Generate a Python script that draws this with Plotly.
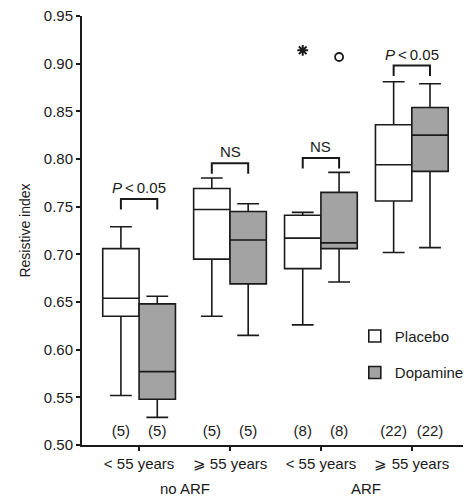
import plotly.graph_objects as go

# ---- data ----
age_labels = ["< 55 years", "\u2a7e 55 years", "< 55 years", "\u2a7e 55 years"]
arf_groups = ["no ARF", "ARF"]
arf_members = [[0, 1], [2, 3]]

placebo_lower = [0.552, 0.635, 0.626, 0.702]
placebo_q1 = [0.635, 0.695, 0.685, 0.756]
placebo_median = [0.654, 0.747, 0.717, 0.794]
placebo_q3 = [0.706, 0.769, 0.741, 0.836]
placebo_upper = [0.729, 0.780, 0.744, 0.881]

dopamine_lower = [0.529, 0.615, 0.671, 0.707]
dopamine_q1 = [0.548, 0.669, 0.706, 0.787]
dopamine_median = [0.577, 0.715, 0.712, 0.825]
dopamine_q3 = [0.648, 0.745, 0.765, 0.854]
dopamine_upper = [0.656, 0.753, 0.786, 0.879]

n_placebo = [5, 5, 8, 22]
n_dopamine = [5, 5, 8, 22]

placebo_outlier_group = [2]
placebo_outlier_value = [0.914]
dopamine_outlier_group = [2]
dopamine_outlier_value = [0.907]

bracket_top = [0.758, 0.7955, 0.801, 0.898]
bracket_text = ["<i>P</i>\u2009<\u20090.05", "NS", "NS", "<i>P</i>\u2009<\u20090.05"]

y_ticks = [0.50, 0.55, 0.60, 0.65, 0.70, 0.75, 0.80, 0.85, 0.90, 0.95]

# ---- style ----
FONT = "Liberation Sans, Arial, sans-serif"
LINE = "#1a1a1a"
GRAY = "#a3a3a3"
BOXGAP = 0.2
OFF = (1 - BOXGAP) / 4  # centre offset of each box within a group
N_Y = 0.513
LEG = 0.011

pos = list(range(len(age_labels)))

fig = go.Figure()
fig.add_trace(go.Box(
    name="Placebo", x=pos, q1=placebo_q1, median=placebo_median, q3=placebo_q3,
    lowerfence=placebo_lower, upperfence=placebo_upper,
    fillcolor="white", line=dict(color=LINE, width=1.6), whiskerwidth=0.6,
    boxpoints=False, legendgroup="p"))
fig.add_trace(go.Box(
    name="Dopamine", x=pos, q1=dopamine_q1, median=dopamine_median, q3=dopamine_q3,
    lowerfence=dopamine_lower, upperfence=dopamine_upper,
    fillcolor=GRAY, line=dict(color=LINE, width=1.6), whiskerwidth=0.6,
    boxpoints=False, legendgroup="d"))

fig.add_trace(go.Scatter(
    x=[g - OFF for g in placebo_outlier_group], y=placebo_outlier_value,
    mode="markers", marker=dict(symbol="asterisk-open", size=9, color=LINE,
                                line=dict(color=LINE, width=2)),
    showlegend=False, hoverinfo="skip"))
fig.add_trace(go.Scatter(
    x=[g + OFF for g in dopamine_outlier_group], y=dopamine_outlier_value,
    mode="markers", marker=dict(symbol="circle-open", size=8, color=LINE,
                                line=dict(color=LINE, width=1.8)),
    showlegend=False, hoverinfo="skip"))

# sample sizes
fig.add_trace(go.Scatter(
    x=[p - OFF for p in pos] + [p + OFF for p in pos],
    y=[N_Y] * (2 * len(pos)),
    text=[f"({n})" for n in n_placebo] + [f"({n})" for n in n_dopamine],
    mode="text", textfont=dict(family=FONT, size=15, color=LINE),
    showlegend=False, hoverinfo="skip"))

shapes = []
annotations = []
for p, top, txt in zip(pos, bracket_top, bracket_text):
    x0, x1 = p - OFF, p + OFF
    shapes.append(dict(type="path", xref="x", yref="y",
                       path=f"M{x0},{top - LEG} L{x0},{top} L{x1},{top} L{x1},{top - LEG}",
                       line=dict(color=LINE, width=2)))
    annotations.append(dict(x=p, y=top, xref="x", yref="y", text=txt, showarrow=False,
                            yanchor="bottom", yshift=1,
                            font=dict(family=FONT, size=15, color=LINE)))

for name, members in zip(arf_groups, arf_members):
    annotations.append(dict(x=sum(members) / len(members), y=0, xref="x", yref="paper",
                            text=name, showarrow=False, yanchor="top", yshift=-33,
                            font=dict(family=FONT, size=15, color=LINE)))

fig.update_layout(
    width=469, height=496,
    margin=dict(l=82, r=0, t=16, b=51),
    paper_bgcolor="white", plot_bgcolor="white",
    boxmode="group", boxgap=BOXGAP, boxgroupgap=0,
    font=dict(family=FONT, size=15, color=LINE),
    shapes=shapes, annotations=annotations,
    legend=dict(x=0.716, y=0.292, xanchor="left", yanchor="top",
                bgcolor="rgba(0,0,0,0)", font=dict(family=FONT, size=15, color=LINE),
                tracegroupgap=14),
    xaxis=dict(range=[-0.628, 3.563], tickvals=pos, ticktext=age_labels,
               showline=True, linecolor=LINE, linewidth=2, ticks="outside",
               ticklen=4, tickwidth=1.5, tickcolor=LINE, showgrid=False, zeroline=False,
               tickfont=dict(family=FONT, size=15, color=LINE)),
    yaxis=dict(range=[0.5, 0.95], tickvals=y_ticks, tickformat=".2f",
               showline=True, linecolor=LINE, linewidth=2, ticks="outside",
               ticklen=4, tickwidth=1.5, tickcolor=LINE, showgrid=False, zeroline=False,
               tickfont=dict(family=FONT, size=15, color=LINE),
               title=dict(text="Resistive index", standoff=10,
                          font=dict(family=FONT, size=14, color=LINE))),
)

fig.write_html("out.html")
